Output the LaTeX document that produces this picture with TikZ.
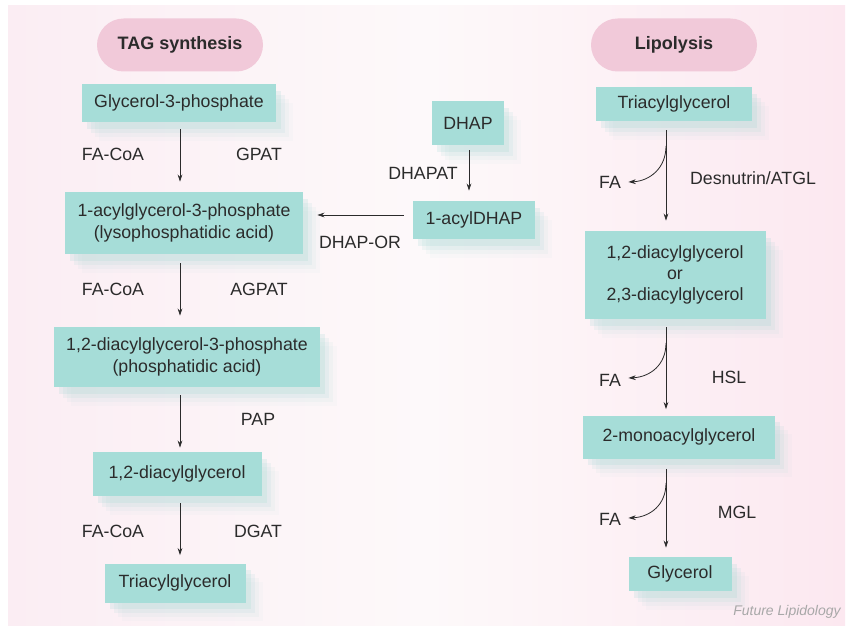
\documentclass[tikz,border=0pt]{standalone}
\usepackage{fontspec}
\setmainfont{Liberation Sans}
\usetikzlibrary{arrows.meta,shadows,calc}
\definecolor{boxteal}{HTML}{A6DDD8}
\definecolor{shteal}{HTML}{8CCFCB}
\definecolor{pillpink}{HTML}{F1C9D9}
\definecolor{bgleft}{HTML}{FBEDF3}
\definecolor{bgmid}{HTML}{FDF9FA}
\definecolor{bgright}{HTML}{FCE8F0}
\definecolor{txt}{HTML}{2B2B2B}
\definecolor{credit}{HTML}{A8A8A8}
\tikzset{
  box/.style={fill=boxteal, text=txt, align=center, inner sep=0pt,
    font=\fontsize{13.3}{16}\selectfont,
    drop shadow={shadow xshift=4pt, shadow yshift=-5pt, fill=shteal, opacity=0.16},
    drop shadow={shadow xshift=7pt, shadow yshift=-8pt, fill=shteal, opacity=0.11},
    drop shadow={shadow xshift=10pt, shadow yshift=-11pt, fill=shteal, opacity=0.07},
    drop shadow={shadow xshift=13pt, shadow yshift=-14pt, fill=shteal, opacity=0.04}},
  pill/.style={fill=pillpink, text=txt, rounded corners=20pt, inner sep=0pt,
    font=\fontsize{13.5}{16}\selectfont\bfseries},
  lbl/.style={text=txt, inner sep=1pt, font=\fontsize{13.3}{16}\selectfont},
  arr/.style={draw=txt, line width=0.6pt, -{Stealth[length=5.5pt,width=3.6pt]}},
}
\begin{document}
\begin{tikzpicture}[x=0.75pt,y=-0.75pt]
\useasboundingbox (0,0) rectangle (850,631);
\fill[white] (0,0) rectangle (850,631);
\shade[left color=bgleft, right color=bgright, middle color=bgmid] (8,6) rectangle (845,625);

% headers
\node[pill, minimum width=166*0.75pt, minimum height=53*0.75pt] (tagh) at (180,45) {TAG synthesis};
\node[pill, minimum width=166*0.75pt, minimum height=53*0.75pt] (liph) at (674,45) {Lipolysis};

% left column
\node[box, minimum width=194*0.75pt, minimum height=38*0.75pt] (g3p) at (179,103) {Glycerol-3-phosphate};
\node[box, minimum width=238*0.75pt, minimum height=62*0.75pt] (lpa) at (184,223) {1-acylglycerol-3-phosphate\\(lysophosphatidic acid)};
\node[box, minimum width=266*0.75pt, minimum height=60*0.75pt] (pa) at (187,357) {1,2-diacylglycerol-3-phosphate\\(phosphatidic acid)};
\node[box, minimum width=169*0.75pt, minimum height=44*0.75pt] (dag) at (177,474) {1,2-diacylglycerol};
\node[box, minimum width=141*0.75pt, minimum height=39*0.75pt] (tagl) at (175,583) {Triacylglycerol};

\coordinate (ax) at (180,0);
\draw[arr] ($(g3p.south -| ax)+(0,7)$) -- ($(lpa.north -| ax)+(0,-10)$);
\draw[arr] ($(lpa.south -| ax)+(0,9)$) -- ($(pa.north -| ax)+(0,-11)$);
\draw[arr] ($(pa.south -| ax)+(0,8)$) -- ($(dag.north -| ax)+(0,-4)$);
\draw[arr] ($(dag.south -| ax)+(0,7)$) -- ($(tagl.north -| ax)+(0,-8)$);

\node[lbl] (fa1) at (113,154) {FA-CoA};
\node[lbl] (gpat) at (259,154) {GPAT};
\node[lbl] (fa2) at (113,289) {FA-CoA};
\node[lbl] (agpat) at (259,289) {AGPAT};
\node[lbl] (pap) at (258,419) {PAP};
\node[lbl] (fa3) at (113,531) {FA-CoA};
\node[lbl] (dgat) at (258,531) {DGAT};

% middle
\node[box, minimum width=72*0.75pt, minimum height=44*0.75pt] (dhap) at (468,123) {DHAP};
\node[box, minimum width=122*0.75pt, minimum height=38*0.75pt] (adhap) at (474,220) {1-acylDHAP};
\coordinate (mx) at (469,0);
\draw[arr] ($(dhap.south -| mx)+(0,5)$) -- ($(adhap.north -| mx)+(0,-10)$);
\node[lbl] (dhapat) at (423,173) {DHAPAT};
\coordinate (hy) at (0,215);
\draw[arr] ($(adhap.west |- hy)+(-9,0)$) -- ($(lpa.east |- hy)+(14,0)$);
\node[lbl] (dhapor) at (360,242) {DHAP-OR};

% right column
\node[box, minimum width=156*0.75pt, minimum height=34*0.75pt] (tagr) at (674,104) {Triacylglycerol};
\node[box, minimum width=181*0.75pt, minimum height=88*0.75pt] (diag) at (675,275) {1,2-diacylglycerol\\or\\2,3-diacylglycerol};
\node[box, minimum width=192*0.75pt, minimum height=43*0.75pt] (mag) at (679,437) {2-monoacylglycerol};
\node[box, minimum width=103*0.75pt, minimum height=34*0.75pt] (gly) at (680,574) {Glycerol};

\coordinate (rx) at (666,0);
\draw[arr] ($(tagr.south -| rx)+(0,9)$) -- ($(diag.north -| rx)+(0,-10)$);
\draw[arr] ($(diag.south -| rx)+(0,8)$) -- ($(mag.north -| rx)+(0,-6)$);
\draw[arr] ($(mag.south -| rx)+(0,10)$) -- ($(gly.north -| rx)+(0,-9)$);

\node[lbl] (faA) at (610,182) {FA};
\node[lbl] (faB) at (610,380) {FA};
\node[lbl] (faC) at (610,519) {FA};
\node[lbl] (atgl) at (753,178) {Desnutrin/ATGL};
\node[lbl] (hsl) at (729,377) {HSL};
\node[lbl] (mgl) at (737,512) {MGL};

\coordinate (sA) at (666,146);
\coordinate (sB) at (666,343);
\coordinate (sC) at (666,483);
\draw[arr] (sA) .. controls (666,168) and (650,181) .. ($(faA.east)+(6,0)$);
\draw[arr] (sB) .. controls (666,365) and (650,377) .. ($(faB.east)+(6,-2)$);
\draw[arr] (sC) .. controls (666,505) and (650,517) .. ($(faC.east)+(6,-1)$);

\node[text=credit, font=\fontsize{10.5}{12}\selectfont\itshape] (cred) at (787,612) {Future Lipidology};
\end{tikzpicture}
\end{document}
